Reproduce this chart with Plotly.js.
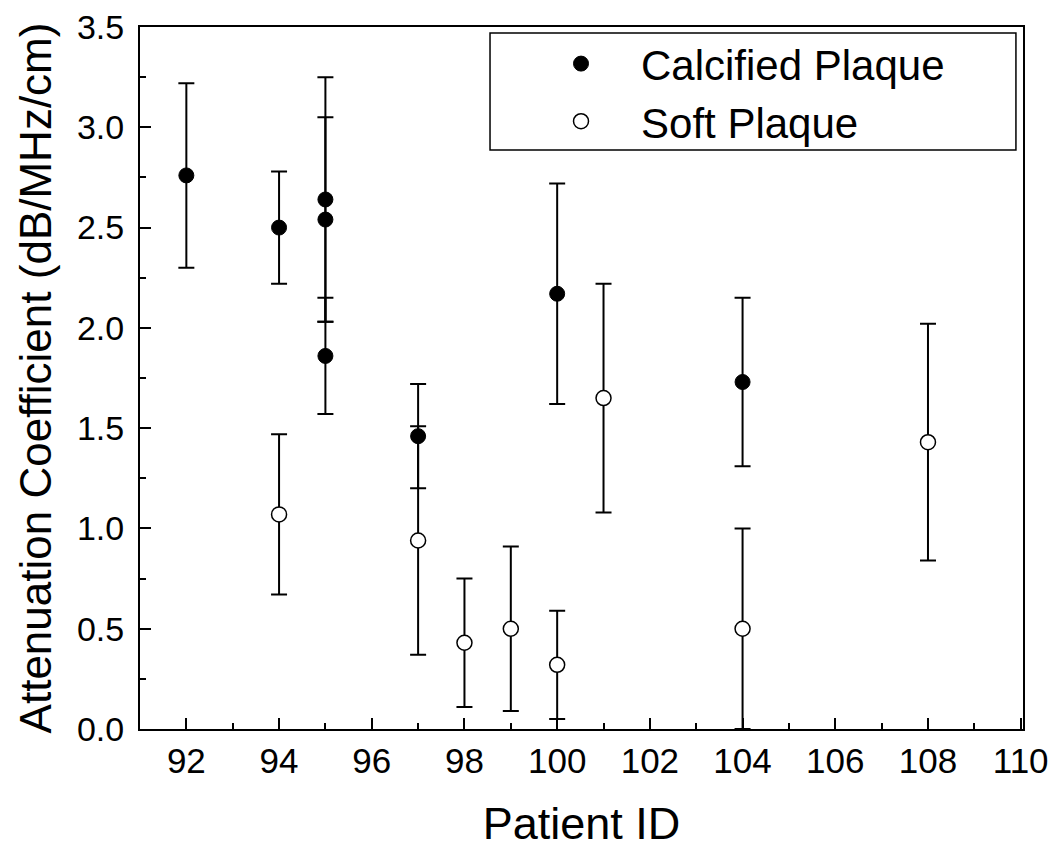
<!DOCTYPE html>
<html>
<head>
<meta charset="utf-8">
<script src="https://cdn.plot.ly/plotly-3.0.1.min.js"></script>
<style>html,body{margin:0;padding:0;background:#fff;}#chart{width:1050px;height:849px;}</style>
</head>
<body>
<div id="chart"></div>
<script>
// Calcified plaque
var calcX = [92, 94, 95, 95, 95, 97, 100, 104];
var calcY = [2.76, 2.50, 2.64, 2.54, 1.86, 1.46, 2.17, 1.73];
var calcErr = [0.46, 0.28, 0.61, 0.51, 0.29, 0.26, 0.55, 0.42];

// Soft plaque
var softX = [94, 97, 98, 99, 100, 101, 104, 108];
var softY = [1.07, 0.94, 0.43, 0.50, 0.32, 1.65, 0.50, 1.43];
var softErr = [0.40, 0.57, 0.32, 0.41, 0.27, 0.57, 0.50, 0.59];

var seriesNames = ['Calcified Plaque', 'Soft Plaque'];
var xTickVals = [92, 94, 96, 98, 100, 102, 104, 106, 108, 110];
var yTickVals = [0, 0.5, 1.0, 1.5, 2.0, 2.5, 3.0, 3.5];

var FONT = 'Liberation Sans, Arial, Helvetica, sans-serif';

var errStyle = {type: 'data', visible: true, color: '#000', thickness: 2, width: 8};

var traces = [
  {
    x: calcX, y: calcY, name: seriesNames[0], type: 'scatter', mode: 'markers',
    marker: {symbol: 'circle', size: 15, color: '#000', line: {color: '#000', width: 1}},
    error_y: Object.assign({array: calcErr}, errStyle)
  },
  {
    x: softX, y: softY, name: seriesNames[1], type: 'scatter', mode: 'markers',
    marker: {symbol: 'circle', size: 15, color: '#fff', line: {color: '#000', width: 1.5}},
    error_y: Object.assign({array: softErr}, errStyle)
  }
];

var layout = {
  width: 1050, height: 849,
  margin: {l: 140, r: 27, t: 27, b: 120},
  paper_bgcolor: '#fff', plot_bgcolor: '#fff',
  font: {family: FONT, color: '#000'},
  showlegend: true,
  legend: {
    x: 0.4315, xanchor: 'left', y: 0.996, yanchor: 'top',
    bgcolor: 'rgba(0,0,0,0)', borderwidth: 0,
    font: {family: FONT, size: 42, color: '#000'},
    itemwidth: 110, tracegroupgap: 0
  },
  xaxis: {
    range: [91, 110.05],
    tickvals: xTickVals, ticktext: xTickVals.map(String),
    ticks: 'inside', ticklen: 11, tickwidth: 2, tickcolor: '#000',
    minor: {dtick: 1, tick0: 91, ticks: 'inside', ticklen: 6, tickwidth: 2, tickcolor: '#000'},
    showgrid: false, zeroline: false,
    showline: true, linecolor: '#000', linewidth: 2, mirror: true,
    tickfont: {family: FONT, size: 35, color: '#000'},
    title: {text: 'Patient ID', font: {family: FONT, size: 45, color: '#000'}, standoff: 28}
  },
  yaxis: {
    range: [0, 3.5],
    tickvals: yTickVals, tickformat: '.1f',
    ticks: 'inside', ticklen: 11, tickwidth: 2, tickcolor: '#000',
    minor: {dtick: 0.25, tick0: 0, ticks: 'inside', ticklen: 6, tickwidth: 2, tickcolor: '#000'},
    showgrid: false, zeroline: false,
    showline: true, linecolor: '#000', linewidth: 2, mirror: true,
    ticklabelstandoff: 7,
    tickfont: {family: FONT, size: 34, color: '#000'},
    title: {text: 'Attenuation Coefficient (dB/MHz/cm)', font: {family: FONT, size: 44, color: '#000'}, standoff: 12}
  },
  shapes: [
    {type: 'rect', xref: 'paper', yref: 'paper', x0: 0.3964, x1: 0.992, y0: 0.8248, y1: 0.9915,
     line: {color: '#000', width: 1.5}, fillcolor: 'rgba(0,0,0,0)'}
  ]
};

Plotly.newPlot('chart', traces, layout, {staticPlot: true, displayModeBar: false});
</script>
</body>
</html>
